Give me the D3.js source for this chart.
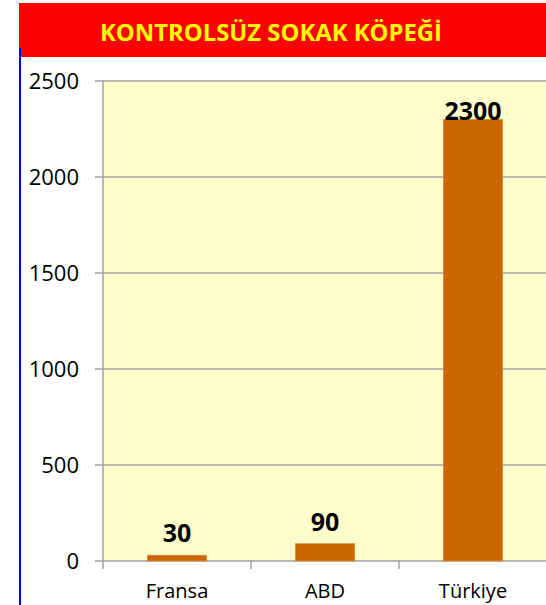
<!DOCTYPE html>
<html>
<head>
<meta charset="utf-8">
<script src="https://cdn.jsdelivr.net/npm/d3@7"></script>
<style>
  body { margin: 0; background: #fff; }
  text { font-family: "Open Sans", sans-serif; }
</style>
</head>
<body>
<script>
// chart data
var categories = ["Fransa", "ABD", "Türkiye"];
var values = [30, 90, 2300];
var yTicks = [0, 500, 1000, 1500, 2000, 2500];
var title = "KONTROLSÜZ SOKAK KÖPEĞİ";

var w = 546, h = 605;
const margin = {top: 81, right: -1, bottom: 44, left: 103};

var svg = d3.select("body").append("svg")
    .attr("width", w)
    .attr("height", h);

// title banner
svg.append("rect")
    .attr("x", 19).attr("y", 3)
    .attr("width", w - 19).attr("height", 54)
    .attr("fill", "#ff0000");

svg.append("text")
    .attr("x", 271).attr("y", 41)
    .attr("text-anchor", "middle")
    .attr("fill", "#ffff00")
    .style("font-weight", "bold")
    .style("font-size", "23px")
    .attr("textLength", 342)
    .attr("lengthAdjust", "spacingAndGlyphs")
    .text(title);

// blue left border
svg.append("line")
    .attr("x1", 20).attr("x2", 20)
    .attr("y1", 48).attr("y2", h)
    .attr("stroke", "#0000ff")
    .attr("stroke-width", 2);

var x = d3.scaleBand()
    .domain(categories)
    .range([margin.left, w - margin.right])
    .paddingInner(0.6)
    .paddingOuter(0.3);

var y = d3.scaleLinear()
    .domain([0, 2500])
    .range([h - margin.bottom, margin.top]);

// plot area
svg.append("rect")
    .attr("x", margin.left).attr("y", y(2500))
    .attr("width", w - margin.left)
    .attr("height", y(0) - y(2500))
    .attr("fill", "#ffffcc");

// gridlines
svg.append("g")
    .selectAll("line")
    .data(yTicks)
    .enter().append("line")
    .attr("x1", margin.left - 8)
    .attr("x2", w)
    .attr("y1", d => y(d))
    .attr("y2", d => y(d))
    .attr("stroke", "#a0a0a0")
    .attr("stroke-width", 1.5);

// y axis
svg.append("line")
    .attr("x1", margin.left).attr("x2", margin.left)
    .attr("y1", y(2500)).attr("y2", y(0) + 8)
    .attr("stroke", "#a0a0a0")
    .attr("stroke-width", 1.5);

svg.append("g")
    .selectAll("text")
    .data(yTicks)
    .enter().append("text")
    .attr("x", 79)
    .attr("y", d => y(d) + 8)
    .attr("text-anchor", "end")
    .style("font-size", "22px")
    .attr("fill", "#000")
    .text(d => d);

// category boundary ticks
var step = x.step();
var bounds = categories.map((c, i) => x(c) + x.bandwidth() / 2 + step / 2);
svg.append("g")
    .selectAll("line")
    .data(bounds.slice(0, -1))
    .enter().append("line")
    .attr("x1", d => d).attr("x2", d => d)
    .attr("y1", y(0)).attr("y2", y(0) + 8)
    .attr("stroke", "#a0a0a0")
    .attr("stroke-width", 1.5);

// bars
svg.append("g")
    .selectAll("rect")
    .data(values)
    .enter().append("rect")
    .attr("x", (d, i) => x(categories[i]))
    .attr("y", d => y(d))
    .attr("width", x.bandwidth())
    .attr("height", d => y(0) - y(d))
    .attr("fill", "#cc6600")
    .attr("stroke", "#d88a3a")
    .attr("stroke-width", 0.8);

// value labels
svg.append("g")
    .selectAll("text")
    .data(values)
    .enter().append("text")
    .attr("x", (d, i) => x(categories[i]) + x.bandwidth() / 2)
    .attr("y", d => Math.max(y(d) - 13, y(2500) + 39))
    .attr("text-anchor", "middle")
    .style("font-size", "25px")
    .style("font-weight", "bold")
    .attr("fill", "#000")
    .text(d => d);

// category labels
svg.append("g")
    .selectAll("text")
    .data(categories)
    .enter().append("text")
    .attr("x", d => x(d) + x.bandwidth() / 2)
    .attr("y", 598)
    .attr("text-anchor", "middle")
    .style("font-size", "20px")
    .attr("fill", "#000")
    .text(d => d);
</script>
</body>
</html>
